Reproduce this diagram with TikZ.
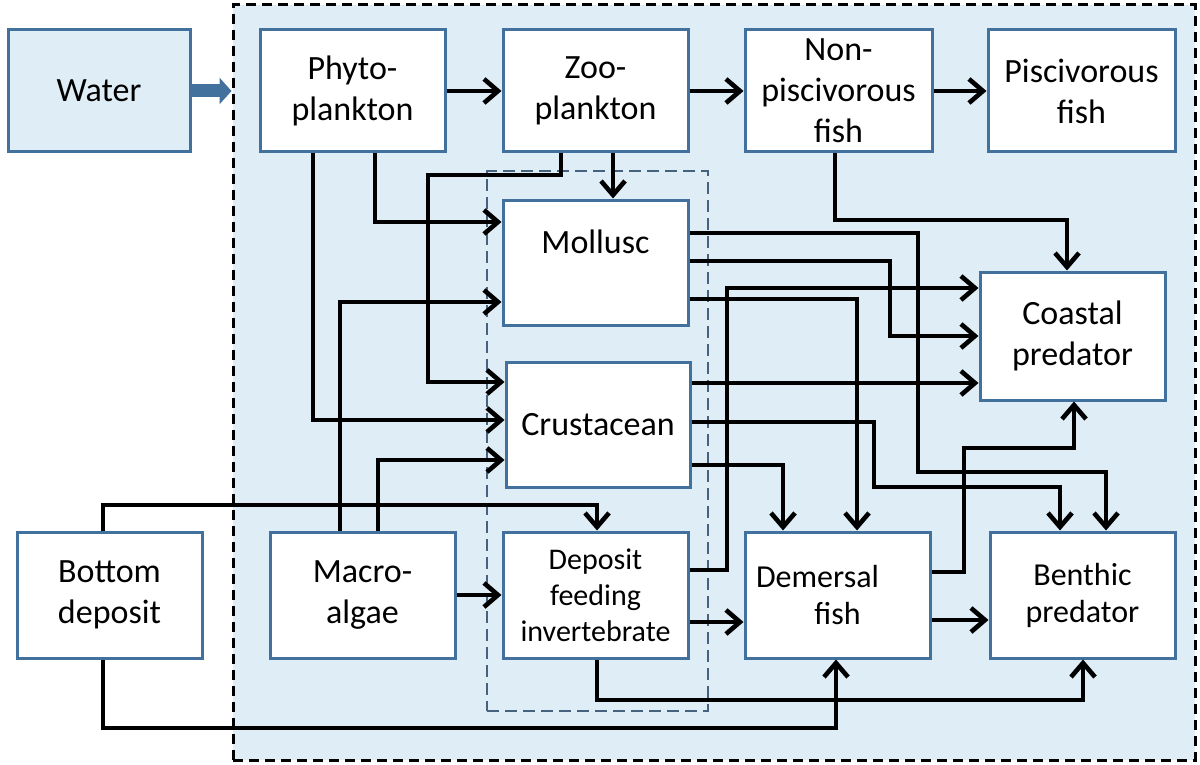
\documentclass[tikz,border=0pt]{standalone}
\usepackage{fontspec}
\setmainfont{Carlito}
\usetikzlibrary{arrows.meta}
\definecolor{bgblue}{HTML}{DEEDF6}
\definecolor{edgeblue}{HTML}{41719C}
\definecolor{dashblue}{HTML}{46627F}
\begin{document}
\begin{tikzpicture}[x=0.5pt,y=-0.5pt,
  box/.style={draw=edgeblue, line width=1.5pt, fill=white, align=center, inner sep=0pt,
    minimum width=92.5pt, minimum height=62pt, font=\fontsize{17}{20.5}\selectfont},
  smallbox/.style={box, font=\fontsize{16}{18.5}\selectfont},
  tinybox/.style={box, font=\fontsize{15}{18}\selectfont},
  arr/.style={line width=2.3pt, -{Straight Barb[length=7pt,width=12pt]}},
  outerbox/.style={draw=black, fill=bgblue, line width=1.5pt, dash pattern=on 5pt off 3pt, inner sep=0pt},
  innerbox/.style={draw=dashblue, line width=1.4pt, dash pattern=on 6pt off 3pt, inner sep=0pt},
  waterarrow/.style={draw=edgeblue, line width=6.5pt, -{Triangle[length=6pt,width=13pt]}}
]
\useasboundingbox (0,0) rectangle (1200,765);

\node[outerbox, minimum width=481pt, minimum height=377.5pt] (outer) at (714,382.5) {};
\node[innerbox, minimum width=110.5pt, minimum height=270pt] (inner) at (597.5,441) {};

\node[box, fill=bgblue, minimum width=91pt, minimum height=61pt] (water) at (99,91) {Water};
\node[box, minimum height=61pt] (phyto) at (352.5,91) {Phyto-\\plankton};
\node[box, minimum height=61pt] (zoo) at (595.5,91) {Zoo-\\plankton};
\node[box, minimum width=93.5pt, minimum height=61pt] (nonpisc) at (838.5,91) {Non-\\piscivorous\\fish};
\node[box, minimum width=93.5pt, minimum height=61pt] (pisc) at (1081.5,91) {Piscivorous\\fish};
\node[box, minimum height=62.5pt] (mollusc) at (595.5,262.5) {Mollusc\\\mbox{}};
\node[box, minimum width=92pt, minimum height=62.5pt] (crust) at (598,424.5) {Crustacean};
\node[tinybox, minimum height=63pt] (deposit) at (595.5,595) {Deposit\\feeding\\invertebrate};
\node[box, minimum height=63pt] (macro) at (362.5,595) {Macro-\\algae};
\node[box, minimum height=63pt] (bottom) at (109.5,595) {Bottom\\deposit};
\node[smallbox, minimum height=63pt] (demersal) at (837.5,595) {Demersal\hspace*{20pt}\\fish};
\node[smallbox, minimum height=63pt] (benthic) at (1082.5,595) {Benthic\\predator};
\node[box, minimum height=64pt] (coastal) at (1072.5,336) {Coastal\\predator};

% water input
\draw[waterarrow] (water.east) -- (outer.west |- water.east);

% top row
\draw[arr] (phyto.east) -- (zoo.west);
\draw[arr] (zoo.east) -- (nonpisc.west);
\draw[arr] (nonpisc.east) -- (pisc.west);

% phytoplankton
\draw[arr] (phyto.south -| 313,0) |- (crust.west |- 0,420);
\draw[arr] (phyto.south -| 375,0) |- (mollusc.west |- 0,222);

% zooplankton
\draw[arr] (zoo.south -| 561,0) -- (561,175) -- (428,175) |- (crust.west |- 0,382);
\draw[arr] (zoo.south -| 613,0) -- (mollusc.north -| 613,0);

% macro-algae
\draw[arr] (macro.north -| 340,0) |- (mollusc.west |- 0,302);
\draw[arr] (macro.north -| 378,0) |- (crust.west |- 0,460);
\draw[arr] (macro.east) -- (deposit.west);

% bottom deposit
\draw[arr] (bottom.north -| 103,0) -- (103,505) -| (deposit.north -| 597,0);
\draw[arr] (bottom.south -| 103,0) |- (836,728) -- (demersal.south -| 836,0);

% deposit feeding invertebrate
\draw[arr] (deposit.south -| 597,0) |- (1083,700) -- (benthic.south -| 1083,0);
\draw[arr] (deposit.east |- 0,622) -- (demersal.west |- 0,622);
\draw[arr] (deposit.east |- 0,570) -| (727,288) -- (coastal.west |- 0,288);

% demersal fish
\draw[arr] (demersal.east |- 0,620) -- (benthic.west |- 0,620);
\draw[arr] (demersal.east |- 0,572) -| (964,448) -| (coastal.south -| 1074,0);

% non-piscivorous fish
\draw[arr] (nonpisc.south -| 835,0) |- (1067,220) -- (coastal.north -| 1067,0);

% mollusc
\draw[arr] (mollusc.east |- 0,233) -| (918,472) -| (benthic.north -| 1106,0);
\draw[arr] (mollusc.east |- 0,261) -| (890,336) -- (coastal.west |- 0,336);
\draw[arr] (mollusc.east |- 0,299) -| (demersal.north -| 857,0);

% crustacean
\draw[arr] (crust.east |- 0,383) -- (coastal.west |- 0,383);
\draw[arr] (crust.east |- 0,422) -| (874,487) -| (benthic.north -| 1060,0);
\draw[arr] (crust.east |- 0,465) -| (demersal.north -| 783,0);
\end{tikzpicture}
\end{document}
